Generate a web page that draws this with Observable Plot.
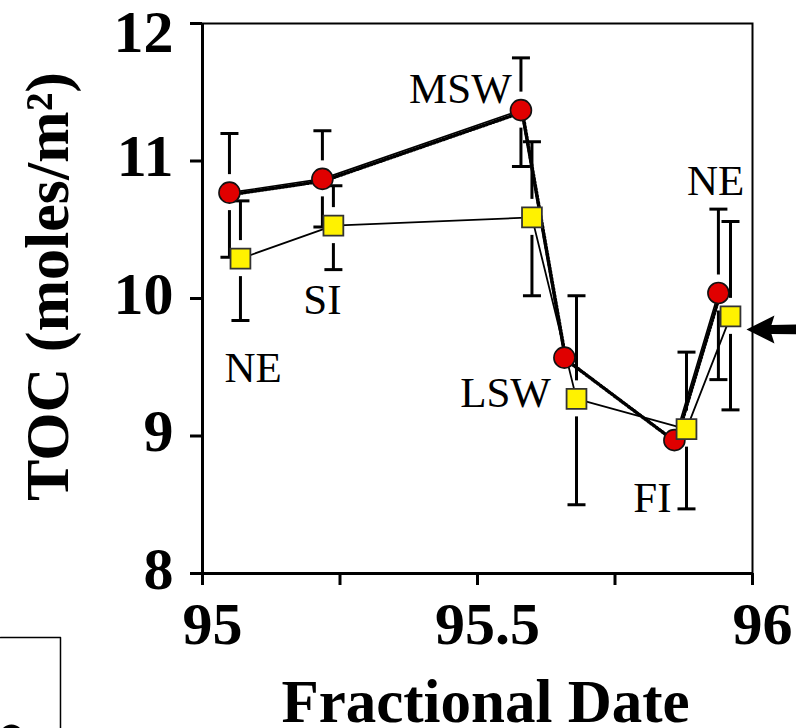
<!DOCTYPE html>
<html><head><meta charset="utf-8">
<script src="https://cdn.jsdelivr.net/npm/d3@7"></script>
<script src="https://cdn.jsdelivr.net/npm/@observablehq/plot@0.6"></script>
<style>body{margin:0;background:#fff}</style>
</head><body><div id="chart"></div>
<script>
// Series 1: red circles
const circleX  = [95.049, 95.218, 95.579, 95.658, 95.858, 95.938];
const circleY  = [10.77, 10.87, 11.37, 9.57, 8.97, 10.04];
const circleHi = [11.20, 11.22, 11.75, null, null, 10.65];
const circleLo = [10.30, 10.52, 10.96, null, null, 9.41];
// Series 2: yellow squares
const squareX  = [95.069, 95.238, 95.599, 95.680, 95.880, 95.960];
const squareY  = [10.29, 10.53, 10.59, 9.27, 9.05, 9.87];
const squareHi = [10.71, 10.82, 11.14, 10.02, 9.61, 10.56];
const squareLo = [9.84, 10.21, 10.02, 8.50, 8.47, 9.19];
// Annotations
const labelText = ["NE", "SI", "MSW", "LSW", "FI", "NE"];
const labelX    = [95.092, 95.218, 95.469, 95.551, 95.818, 95.933];
const labelY    = [9.49, 9.985, 11.52, 9.31, 8.545, 10.85];
// Ticks
const xTicks = [95, 95.25, 95.5, 95.75, 96];
const xTickLabels = [95, 95.5, 96];
const yTicks = [8, 9, 10, 11, 12];
const yTickLabelsLow = [8, 9, 10, 11];
const yTickLabelsTop = [12];
// Arrow pointing at the last square (outside the frame)
const arrowX = [95.989];
const arrowY = [9.775];
// Edge of a neighbouring panel (bottom-left)
const neighborX = [94.6327, 94.7418, 94.7418];
const neighborY = [7.5345, 7.5345, 6.80];
const neighborBlobX = [94.6527];
const neighborBlobY = [6.815];

const serif = "'Liberation Serif', 'Times New Roman', 'DejaVu Serif', serif";

const circles = circleX.map((x, i) => ({x, y: circleY[i], hi: circleHi[i], lo: circleLo[i]}));
const squares = squareX.map((x, i) => ({x, y: squareY[i], hi: squareHi[i], lo: squareLo[i]}));
const labels = labelText.map((t, i) => ({t, x: labelX[i], y: labelY[i]}));
const arrow = arrowX.map((x, i) => ({x, y: arrowY[i]}));
const neighbor = neighborX.map((x, i) => ({x, y: neighborY[i]}));
const blob = neighborBlobX.map((x, i) => ({x, y: neighborBlobY[i]}));

const capSymbol = {draw(ctx) { ctx.moveTo(-9, 0); ctx.lineTo(9, 0); }};
const arrowSymbol = {draw(ctx) {
  ctx.moveTo(0, 0); ctx.lineTo(28, -14); ctx.lineTo(25, -4.5); ctx.lineTo(60, -5);
  ctx.lineTo(60, 5); ctx.lineTo(25, 4.5); ctx.lineTo(28, 14); ctx.closePath();
}};

function errorMarks(rows) {
  const withErr = rows.filter(d => d.hi != null);
  return [
    Plot.ruleX(withErr, {x: d => d.x, y1: d => d.hi, y2: d => d.y, insetBottom: 18, stroke: "black", strokeWidth: 3}),
    Plot.ruleX(withErr, {x: d => d.x, y1: d => d.y, y2: d => d.lo, insetTop: 18, stroke: "black", strokeWidth: 3}),
    Plot.dot(withErr, {x: d => d.x, y: d => d.hi, symbol: capSymbol, fill: "none", stroke: "black", strokeWidth: 3}),
    Plot.dot(withErr, {x: d => d.x, y: d => d.lo, symbol: capSymbol, fill: "none", stroke: "black", strokeWidth: 3})
  ];
}

const chart = Plot.plot({
  width: 796,
  height: 728,
  marginLeft: 202,
  marginRight: 44,
  marginTop: 23,
  marginBottom: 155,
  style: {background: "white", fontFamily: serif, overflow: "visible"},
  x: {domain: [95, 96], label: null},
  y: {domain: [8, 12], label: null},
  marks: [
    Plot.frame({stroke: "black", strokeWidth: 2}),
    Plot.ruleX([95], {stroke: "black", strokeWidth: 3}),
    Plot.ruleY([8], {stroke: "black", strokeWidth: 3}),
    // ticks
    Plot.axisX({ticks: xTicks, tickSize: 12, text: null, stroke: "black", strokeWidth: 3}),
    Plot.axisY({ticks: yTicks, tickSize: 12, text: null, stroke: "black", strokeWidth: 3}),
    // tick labels
    Plot.axisX({ticks: xTickLabels, tickSize: 0, tickPadding: 28, dx: 10, tickFormat: d => String(d),
      fontSize: 60, fontWeight: "bold", fontFamily: serif, fill: "black"}),
    Plot.axisY({ticks: yTickLabelsLow, tickSize: 0, tickPadding: 29, dy: -4, tickFormat: d => String(d),
      fontSize: 60, fontWeight: "bold", fontFamily: serif, fill: "black"}),
    Plot.axisY({ticks: yTickLabelsTop, tickSize: 0, tickPadding: 29, dy: 9, tickFormat: d => String(d),
      fontSize: 60, fontWeight: "bold", fontFamily: serif, fill: "black"}),
    // axis titles
    Plot.text(["Fractional Date"], {text: d => d, frameAnchor: "bottom", textAnchor: "middle", lineAnchor: "middle",
      dx: 8, dy: 129, fontSize: 61, fontWeight: "bold", fontFamily: serif, fill: "black"}),
    Plot.text(["TOC (moles/m²)"], {text: d => d, frameAnchor: "left", textAnchor: "middle", lineAnchor: "middle",
      rotate: -90, dx: -154, dy: -12, fontSize: 62, fontWeight: "bold", fontFamily: serif, fill: "black"}),
    // connecting lines
    Plot.line(circles, {x: d => d.x, y: d => d.y, stroke: "black", strokeWidth: 3.5, strokeDasharray: "1.3,2.2", dx: 1.5, dy: 2}),
    Plot.line(circles, {x: d => d.x, y: d => d.y, stroke: "black", strokeWidth: 1.6}),
    Plot.line(squares, {x: d => d.x, y: d => d.y, stroke: "black", strokeWidth: 1.8}),
    // error bars
    ...errorMarks(circles),
    ...errorMarks(squares),
    // markers
    Plot.dot(circles, {x: d => d.x, y: d => d.y, r: 10.5, fill: "#e00000", stroke: "#111", strokeWidth: 1.6}),
    Plot.dot(squares, {x: d => d.x, y: d => d.y, symbol: "square", r: 11.2, fill: "#fff200", stroke: "#333", strokeWidth: 1.8}),
    // season labels
    Plot.text(labels, {x: d => d.x, y: d => d.y, text: d => d.t, textAnchor: "middle", lineAnchor: "middle",
      fontSize: 43, fontFamily: serif, fill: "black"}),
    // arrow
    Plot.dot(arrow, {x: d => d.x, y: d => d.y, symbol: arrowSymbol, fill: "black", stroke: "none"}),
    // neighbouring panel edge
    Plot.line(neighbor, {x: d => d.x, y: d => d.y, stroke: "black", strokeWidth: 1.5}),
    Plot.dot(blob, {x: d => d.x, y: d => d.y, r: 12, fill: "black", stroke: "none"})
  ]
});
document.getElementById("chart").appendChild(chart);
</script>
</body></html>
